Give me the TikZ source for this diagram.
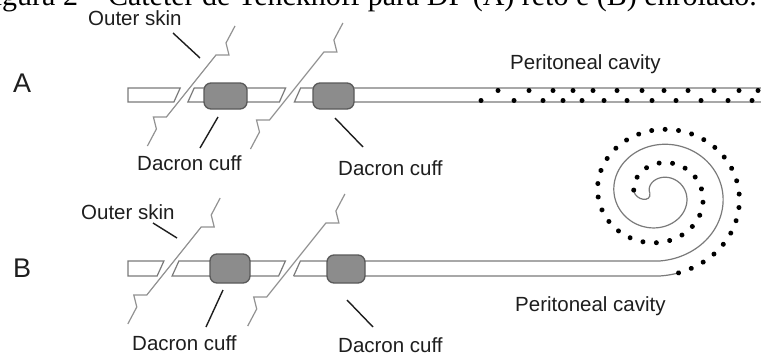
\documentclass[tikz,border=0pt]{standalone}
\usepackage{fontspec}
\setmainfont{Liberation Sans}
\newfontfamily\captionserif{Liberation Serif}
\usetikzlibrary{decorations.markings}
\definecolor{tubeline}{HTML}{7A7A7A}
\definecolor{skinline}{HTML}{929292}
\definecolor{cufffill}{HTML}{8C8C8C}
\definecolor{cuffline}{HTML}{5A5A5A}
\definecolor{ink}{HTML}{1E1E1E}
% skin wall with break marks: #1,#2 lower end of the diagonal, #3,#4 upper end
\newcommand\skinwall[4]{%
  \draw[skin] (#1,#2) ++(-19,29) -- ++(9,-17) -- ++(-3,-12) -- ++(13,0)
    -- (#3,#4) -- ++(13,0) -- ++(-3,-12) -- ++(9,-17);}
\begin{document}
\begin{tikzpicture}[x=1pt,y=-1pt,
  tubeedge/.style={draw=tubeline,line width=1.2pt,line join=miter},
  tubeseg/.style={tubeedge,fill=white},
  skin/.style={draw=skinline,line width=1.2pt},
  cuff/.style={draw=cuffline,fill=cufffill,line width=1.3pt,rounded corners=7pt},
  leader/.style={draw=ink,line width=1.4pt},
  lbl/.style={font=\fontsize{20.5}{24}\selectfont,text=ink,inner sep=0pt,anchor=base west},
  panel/.style={font=\fontsize{27}{30}\selectfont,text=ink,inner sep=0pt,anchor=base west},
  pdot/.style={fill=black},
]
\useasboundingbox (0,0) rectangle (761,356);
\fill[white] (0,0) rectangle (761,356);

% caption line, running off the top of the page
\node[font=\captionserif\fontsize{30}{34}\selectfont,anchor=base east,inner sep=0pt]
  (caption) at (757,5.5) {Figura 2 – Cateter de Tenckhoff para DP (A) reto e (B) enrolado.};

% ---------------- A: straight catheter ----------------
\node[panel] (panelA) at (13,92) {A};
\node[lbl] (skinA) at (88,25) {Outer skin};
\node[lbl] (cavA) at (510,69) {Peritoneal cavity};
\node[lbl] (cuffA1) at (137,170) {Dacron cuff};
\node[lbl] (cuffA2) at (338,175) {Dacron cuff};

\draw[tubeseg] (128,88) -- (180.2,88) -- (173.9,102) -- (128,102) -- cycle;
\draw[tubeseg] (194.2,88) -- (285.6,88) -- (279.4,102) -- (187.9,102) -- cycle;
\draw[tubeedge] (761,88) -- (300.6,88) -- (294.4,102) -- (761,102);

\skinwall{166.4}{117}{216}{55}
\skinwall{269.5}{120}{323.9}{52}

\draw[cuff] (204,83) rectangle (247,109);
\draw[cuff] (313,83) rectangle (354,109);

\foreach \px in {498,529,553,573,593,617,642,664,688,714,739,758}
  \fill[pdot] (\px,90.5) circle (2.5pt);
\foreach \px in {481,514,543,563,582,604,627,652,676,701,728,752}
  \fill[pdot] (\px,100.5) circle (2.5pt);

\coordinate (skinA-a) at (173,33);  \coordinate (skinA-b) at (200,58);
\coordinate (cuffA1-a) at (218,117); \coordinate (cuffA1-b) at (200,148);
\coordinate (cuffA2-a) at (335,118); \coordinate (cuffA2-b) at (363,147);
\draw[leader] (skinA-a) -- (skinA-b);
\draw[leader] (cuffA1-a) -- (cuffA1-b);
\draw[leader] (cuffA2-a) -- (cuffA2-b);

% ---------------- B: coiled catheter ----------------
\node[panel] (panelB) at (13,277) {B};
\node[lbl] (skinB) at (81,219) {Outer skin};
\node[lbl] (cavB) at (515,311) {Peritoneal cavity};
\node[lbl] (cuffB1) at (132,350.5) {Dacron cuff};
\node[lbl] (cuffB2) at (338,352.5) {Dacron cuff};

\draw[tubeseg] (128,261) -- (163.9,261) -- (157.1,276) -- (128,276) -- cycle;
\draw[tubeseg] (178.9,261) -- (285.4,261) -- (278.6,276) -- (172.1,276) -- cycle;

% straight run and inner edge of the coil, closed by a rounded tip
\draw[tubeedge] (293.6,276) -- (300.4,261) -- (659.4,261)
  -- plot[variable=\s,domain=0:10.84,samples=260]
     ({659.4+1.09*(66.6-5.33*\s)*sin(\s r)},{194.4+(66.6-5.33*\s)*cos(\s r)})
  .. controls (651.64,202.89) and (635.48,200.57) .. (633.74,190.72);
\draw[tubeedge] (293.6,276) -- (659.4,276)
  -- plot[variable=\s,domain=0:0.22,samples=12]
     ({659.4+1.09*(81.6-5.33*\s)*sin(\s r)},{194.4+(81.6-5.33*\s)*cos(\s r)});
% outer edge of the coil, shown as a row of holes
\path[decoration={markings,mark=between positions 0 and 1 step 13.5pt with {\fill[pdot] (0,0) circle (2.5pt);}},decorate]
  plot[variable=\s,domain=0.22:10.84,samples=260]
     ({659.4+1.09*(81.6-5.33*\s)*sin(\s r)},{194.4+(81.6-5.33*\s)*cos(\s r)});

\skinwall{146.8}{295}{201.2}{227}
\skinwall{266.7}{297}{325.9}{223}

\draw[cuff] (210,254) rectangle (250,283);
\draw[cuff] (327,255) rectangle (365,283);

\coordinate (skinB-a) at (153,223);  \coordinate (skinB-b) at (177,238);
\coordinate (cuffB1-a) at (223,290); \coordinate (cuffB1-b) at (206,327);
\coordinate (cuffB2-a) at (347,300); \coordinate (cuffB2-b) at (373,327);
\draw[leader] (skinB-a) -- (skinB-b);
\draw[leader] (cuffB1-a) -- (cuffB1-b);
\draw[leader] (cuffB2-a) -- (cuffB2-b);
\end{tikzpicture}
\end{document}
